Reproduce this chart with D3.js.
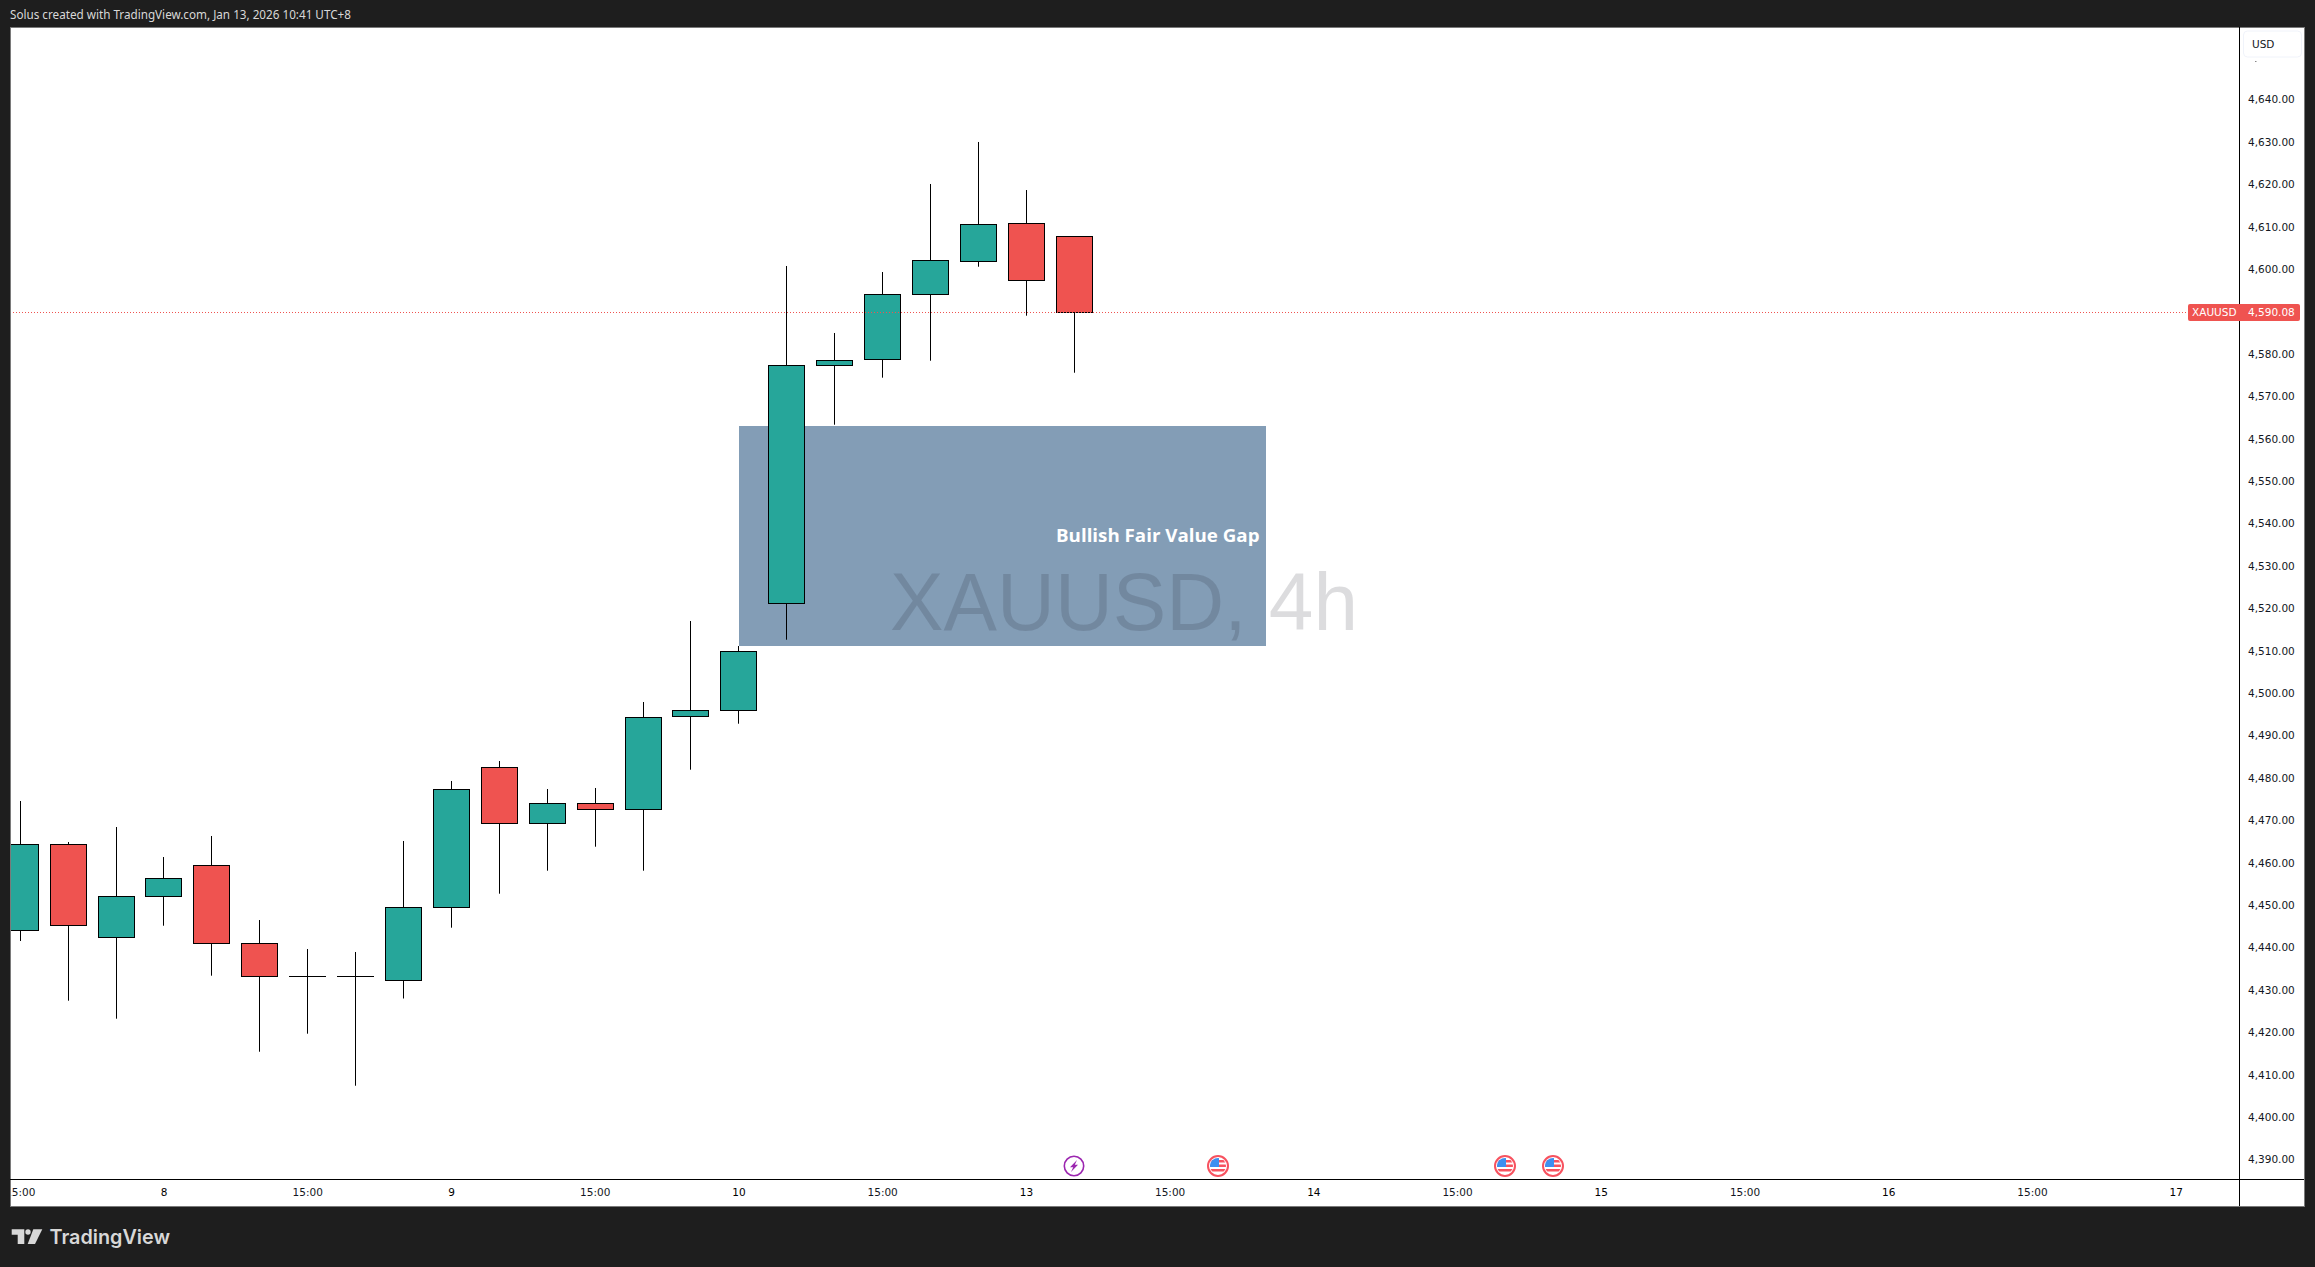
<!DOCTYPE html>
<html><head><meta charset="utf-8">
<style>html,body{margin:0;padding:0;background:#1e1e1e;overflow:hidden}svg{display:block}</style>
<script src="https://cdn.jsdelivr.net/npm/d3@7"></script></head><body>
<svg id="c" width="2315" height="1267"></svg>
<script>
const opens =[4444.33,4464.61,4442.67,4452.34,4459.66,4441.26,4433.48,4433.48,4432.53,4449.75,4482.77,4469.56,4474.28,4472.86,4494.80,4496.21,4521.45,4577.58,4579.00,4594.33,4602.11,4611.07,4608.00];
const highs =[4474.82,4465.15,4468.69,4461.61,4466.57,4446.75,4439.91,4439.21,4465.39,4479.54,4484.25,4477.65,4477.89,4498.17,4517.27,4511.38,4601.00,4585.20,4599.58,4620.34,4630.25,4618.92,4608.00];
const lows  =[4441.80,4427.72,4423.48,4445.41,4433.62,4415.69,4419.94,4407.67,4428.24,4444.94,4452.96,4458.38,4464.04,4458.38,4482.20,4493.05,4512.86,4563.57,4574.66,4578.66,4600.83,4589.28,4575.83];
const closes=[4464.61,4445.50,4452.34,4456.59,4441.26,4433.48,4433.48,4433.48,4449.75,4477.58,4469.56,4474.28,4472.86,4494.56,4496.21,4510.13,4577.58,4578.76,4594.33,4602.34,4610.83,4597.63,4590.08];
const priceTicks=[4640,4630,4620,4610,4600,4590,4580,4570,4560,4550,4540,4530,4520,4510,4500,4490,4480,4470,4460,4450,4440,4430,4420,4410,4400,4390];
const timeTickIdx=[0,3,6,9,12,15,18,21,24,27,30,33,36,39,42,45];
const timeTickLab=["15:00","8","15:00","9","15:00","10","15:00","13","15:00","14","15:00","15","15:00","16","15:00","17"];
const boldTicks=["8","9","10","13","14","15","16","17"];
const eventIdx=[25,31,32];
const boltIdx=[22];
const gapIdx=[15,26], gapPrice=[4563.26,4511.38];
const lastPrice=4590.08;
const labelText="Bullish Fair Value Gap", watermark="XAUUSD, 4h";
const header="Solus created with TradingView.com, Jan 13, 2026 10:41 UTC+8";

const UP="#26a69a",DOWN="#ef5350",INK="#131722",BG="#1e1e1e";
const L=10,T=27,R=2239,B=1179,RR=2304,BB=1206;
const x=d3.scaleLinear().domain([0,22]).range([20.3,1074.3]);
const y=d3.scaleLinear().domain([4590.08,4390]).range([312.3,1160.65]);
const svg=d3.select("#c");
const fnt="'DejaVu Sans',sans-serif";
svg.append("defs").append("clipPath").attr("id","pane").append("rect").attr("x",L+1).attr("y",T+1).attr("width",R-L-1).attr("height",B-T-1);
svg.append("rect").attr("width",2315).attr("height",1267).attr("fill",BG);
svg.append("rect").attr("x",L+.5).attr("y",T+.5).attr("width",RR-L).attr("height",BB-T).attr("fill","#fff").attr("stroke","#7a7a7a").attr("stroke-width",1);
svg.append("text").attr("x",10).attr("y",19).attr("fill","#d8d8d8").attr("font-family","'Noto Sans',sans-serif").attr("font-size",11.7).text(header);

const pane=svg.append("g").attr("clip-path","url(#pane)");
const snap=v=>Math.floor(v)+.5;
const data=opens.map((o,i)=>({i,o,h:highs[i],l:lows[i],c:closes[i]}));
const drawCandle=(g,d)=>{
  const cx=snap(x(d.i)-.1);
  g.append("line").attr("x1",cx).attr("x2",cx).attr("y1",y(d.h)).attr("y2",y(d.l)).attr("stroke","#000").attr("stroke-width",1);
  const t=y(Math.max(d.o,d.c)),b=y(Math.min(d.o,d.c));
  if(b-t<1){g.append("line").attr("x1",cx-18.5).attr("x2",cx+18.5).attr("y1",snap(t)).attr("y2",snap(t)).attr("stroke","#000");return;}
  g.append("rect").attr("x",cx-18).attr("width",36).attr("y",snap(t)).attr("height",Math.max(1,Math.round(b-t)))
    .attr("fill",d.c>=d.o?UP:DOWN).attr("stroke","#000").attr("stroke-width",1);
};
data.filter(d=>d.i<=15).forEach(d=>drawCandle(pane,d));
pane.append("rect").attr("x",Math.round(x(gapIdx[0]))).attr("width",Math.round(x(gapIdx[1]))-Math.round(x(gapIdx[0]))).attr("y",Math.round(y(gapPrice[0]))).attr("height",Math.round(y(gapPrice[1]))-Math.round(y(gapPrice[0]))).attr("fill","#839db6");
data.filter(d=>d.i>15).forEach(d=>drawCandle(pane,d));
pane.append("text").attr("x",890).attr("y",629.5).attr("font-family","'Liberation Sans',Arial,sans-serif").attr("font-size",82).attr("textLength",468).attr("lengthAdjust","spacingAndGlyphs").attr("fill","rgba(19,23,34,.15)").text(watermark);
pane.append("text").attr("x",1056).attr("y",542).attr("font-family","'Open Sans',sans-serif").attr("font-weight",700).attr("font-size",18.5).attr("textLength",203.5).attr("lengthAdjust","spacingAndGlyphs").attr("fill","#fff").text(labelText);
pane.append("line").attr("x1",L).attr("x2",R).attr("y1",snap(y(lastPrice))).attr("y2",snap(y(lastPrice))).attr("stroke",DOWN).attr("stroke-width",1).attr("stroke-dasharray","1 2");

// events
const flag=(cx,cy)=>{
  const g=svg.append("g").attr("transform",`translate(${cx},${cy})`);
  g.append("circle").attr("r",10).attr("fill","#fff").attr("stroke","#f7525f").attr("stroke-width",2);
  g.append("clipPath").attr("id","f"+cx).append("circle").attr("r",8);
  const k=g.append("g").attr("clip-path",`url(#f${cx})`);
  [-6,-1.5,3].forEach(v=>k.append("rect").attr("x",-9).attr("y",v).attr("width",18).attr("height",2.5).attr("fill","#f7525f"));
  k.append("rect").attr("x",-9).attr("y",-9).attr("width",10).attr("height",10).attr("fill","#3d8ff0");
};
eventIdx.forEach(i=>flag(Math.floor(x(i)),1166));
boltIdx.forEach(i=>{const g=svg.append("g").attr("transform",`translate(${Math.round(x(i))},1166)`);
  g.append("circle").attr("r",9.7).attr("fill","#fff").attr("stroke","#9c27b0").attr("stroke-width",1.6);
  g.append("path").attr("d","M3-6L-4 1.2H-.8L-3 6L4-1.2H.8Z").attr("fill","#9c27b0");});

// axes
svg.select("defs").append("clipPath").attr("id","axclip").append("rect").attr("x",L+1).attr("y",B).attr("width",R-L).attr("height",BB-B);
const axT=svg.append("g").attr("clip-path","url(#axclip)");
timeTickIdx.forEach((ix,k)=>{const s=timeTickLab[k];
  axT.append("text").attr("x",x(ix)).attr("y",1196).attr("text-anchor","middle").attr("font-family",fnt).attr("font-size",10.5).attr("fill",boldTicks.includes(s)?"#000":INK).text(s);});
svg.append("line").attr("x1",L).attr("x2",RR).attr("y1",B+.5).attr("y2",B+.5).attr("stroke","#000");
svg.append("line").attr("x1",R+.5).attr("x2",R+.5).attr("y1",T).attr("y2",BB).attr("stroke","#000");
const yAxis=d3.axisRight(y).tickValues(priceTicks).tickSize(0).tickFormat(d3.format(",.2f"));
const ga=svg.append("g").attr("transform",`translate(${R+9},-1.2)`).call(yAxis);
ga.select(".domain").remove();
ga.selectAll("text").attr("font-family",fnt).attr("font-size",10.5).attr("fill",INK).attr("x",0).attr("dx",0);
ga.selectAll(".tick").filter(d=>d===4590).remove();
svg.append("rect").attr("x",2243.5).attr("y",31).attr("width",58).attr("height",26).attr("rx",4).attr("fill","#fff").attr("stroke","#f0f3fa");
svg.append("text").attr("x",2252).attr("y",48).attr("font-family",fnt).attr("font-size",10.5).attr("fill",INK).text("USD");
svg.append("rect").attr("x",2255).attr("y",61).attr("width",1.5).attr("height",1).attr("fill","#888");
// price label
svg.append("path").attr("d","M2188 306a2 2 0 0 1 2-2H2298a2 2 0 0 1 2 2V319a2 2 0 0 1-2 2H2190a2 2 0 0 1-2-2Z").attr("fill",DOWN);
svg.append("line").attr("x1",R+.5).attr("x2",R+.5).attr("y1",304).attr("y2",321).attr("stroke",DOWN);
svg.append("text").attr("x",2192).attr("y",316).attr("font-family",fnt).attr("font-size",10.5).attr("fill","#fff").text("XAUUSD");
svg.append("text").attr("x",2248).attr("y",316).attr("font-family",fnt).attr("font-size",10.5).attr("fill","#fff").text(d3.format(",.2f")(lastPrice));
// logo
const lg=svg.append("g").attr("fill","#d8d8d8");
lg.append("path").attr("d","M11.7 1229.3H24.3V1244H17.7V1234.7H11.7Z");
lg.append("circle").attr("cx",28).attr("cy",1232).attr("r",2.7);
lg.append("path").attr("d","M33.3 1229.3H42.3L35 1244H27.7Z");
svg.append("text").attr("x",49.5).attr("y",1243.5).attr("font-family","'Inter',sans-serif").attr("font-weight",600).attr("font-size",20).attr("textLength",120.5).attr("lengthAdjust","spacingAndGlyphs").attr("fill","#d8d8d8").text("TradingView");
</script></body></html>
